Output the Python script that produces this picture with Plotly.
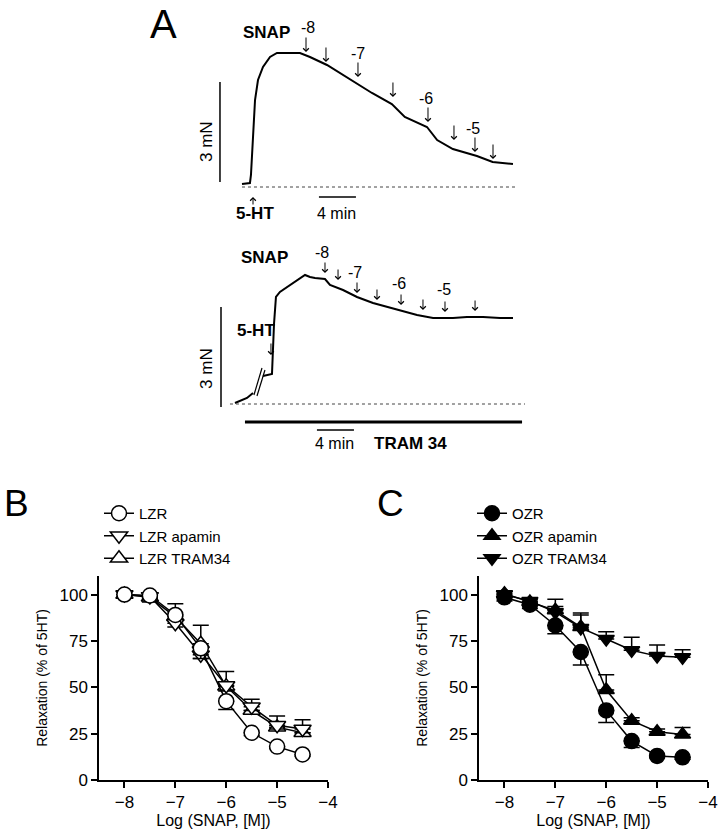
import plotly.graph_objects as go

# ---------------- Panel A data (time in min, tension in mN) ----------------
top_t = [0, 0.86, 0.97, 1.19, 1.41, 1.73, 2.27, 3.03, 3.78, 6.27, 7.35, 9.19, 10.6,
         12.4, 14.05, 16.2, 17.6, 20.0, 21.1, 22.8, 25.4, 27.1, 29.3]
top_f = [0.09, 0.12, 0.36, 1.41, 2.61, 3.21, 3.6, 3.9, 4.02, 4.02, 3.9, 3.66, 3.42,
         3.12, 2.82, 2.49, 2.1, 1.8, 1.41, 1.14, 0.93, 0.75, 0.69]
top_arrow_t = [6.92, 9.08, 12.54, 16.32, 20.11, 22.92, 25.19, 27.14]
top_arrow_f = [4.05, 3.75, 3.30, 2.70, 1.95, 1.41, 1.05, 0.84]
top_dose_lbl = ["-8", "-7", "-6", "-5"]
top_dose_t = [7.1, 12.5, 19.9, 25.0]
top_dose_f = [4.8, 4.02, 2.67, 1.77]

bot_t = [0, 1.3, 1.95, None, 3.03, 4.0, 4.22, 4.43, 4.86, 5.62, 6.70, 7.57, 8.11, 8.65,
         9.73, 10.27, 11.68, 13.19, 14.92, 16.43, 17.84, 19.68, 21.41, 23.57, 25.08,
         26.81, 28.65, 30.05]
bot_f = [0.03, 0.18, 0.33, None, 0.84, 0.90, 2.4, 3.21, 3.36, 3.51, 3.72, 3.87, 3.81, 3.78,
         3.75, 3.57, 3.42, 3.21, 3.03, 2.91, 2.82, 2.67, 2.58, 2.58, 2.61, 2.61, 2.58, 2.58]
bot_arrow_t = [9.73, 11.14, 13.19, 15.35, 17.95, 20.32, 22.70, 25.95]
bot_arrow_f = [3.93, 3.72, 3.33, 3.12, 2.97, 2.82, 2.76, 2.79]
bot_dose_lbl = ["-8", "-7", "-6", "-5"]
bot_dose_t = [9.4, 13.0, 17.7, 22.6]
bot_dose_f = [4.56, 3.96, 3.63, 3.45]

# ---------------- Panels B & C data ----------------
log_snap = [-8, -7.5, -7, -6.5, -6, -5.5, -5, -4.5]
x_ticks = [-8, -7, -6, -5, -4]
y_ticks = [0, 25, 50, 75, 100]

lzr = [100, 99.5, 89, 71, 42.5, 25.5, 18, 13.8]
lzr_err_dn = [1.5, 1.5, 2, 5.5, 4.5, 1.5, 1, 1]
lzr_apamin = [100, 99, 84.5, 67.5, 51, 39.5, 29.5, 27.5]
lzr_apamin_err_dn = [2, 3, 2, 2, 3, 2, 2, 2]
lzr_tram = [100, 98.5, 88, 73.5, 50.5, 37.5, 28.5, 25.5]
lzr_tram_err_up = [2, 2, 7, 10, 8, 6, 6, 7]

ozr = [98.5, 94.5, 83.3, 69, 37.5, 21, 13, 12.2]
ozr_err_dn = [2, 2, 4.5, 7, 6.5, 3.5, 1, 1]
ozr_apamin = [100.5, 96, 91.5, 82.5, 48.5, 32, 26, 24.6]
ozr_apamin_err_up = [1.5, 1.5, 6, 7.5, 8.3, 1.5, 1.5, 3.7]
ozr_tram = [100, 96.5, 90.5, 82, 76, 70, 66.8, 66.2]
ozr_tram_err_up = [2, 1.5, 3, 7, 4, 7, 6, 4]

FONT = "Liberation Sans, Arial, sans-serif"
W, H = 720, 829

fig = go.Figure()

def px_dom_x(a, b):
    return [a / W, b / W]

def px_dom_y(top, bottom):
    return [1 - bottom / H, 1 - top / H]

# ---------- Panel A traces ----------
fig.add_trace(go.Scatter(x=top_t, y=top_f, mode="lines", xaxis="x3", yaxis="y3",
                         line=dict(color="black", width=2), showlegend=False))
fig.add_trace(go.Scatter(x=bot_t, y=bot_f, mode="lines", xaxis="x4", yaxis="y4",
                         line=dict(color="black", width=2), showlegend=False,
                         connectgaps=False))

# ---------- Panels B & C ----------
def err(up=None, dn=None):
    n = len(log_snap)
    return dict(type="data", symmetric=False,
                array=up if up is not None else [0] * n,
                arrayminus=dn if dn is not None else [0] * n,
                color="black", thickness=1.5, width=8)

def series(name, y, sym, filled, e, xa, ya, leg, size=13):
    fig.add_trace(go.Scatter(
        x=log_snap, y=y, name=name, mode="lines+markers", xaxis=xa, yaxis=ya,
        legend=leg, error_y=e,
        line=dict(color="black", width=1.5),
        marker=dict(symbol=sym, size=size,
                    color="black" if filled else "white",
                    line=dict(color="black", width=1.5))))

series("LZR TRAM34", lzr_tram, "triangle-up", False, err(up=lzr_tram_err_up), "x", "y", "legend", 15)
series("LZR apamin", lzr_apamin, "triangle-down", False, err(dn=lzr_apamin_err_dn), "x", "y", "legend", 15)
series("LZR", lzr, "circle", False, err(dn=lzr_err_dn), "x", "y", "legend", 15)

series("OZR TRAM34", ozr_tram, "triangle-down", True, err(up=ozr_tram_err_up), "x2", "y2", "legend2", 14)
series("OZR apamin", ozr_apamin, "triangle-up", True, err(up=ozr_apamin_err_up), "x2", "y2", "legend2", 14)
series("OZR", ozr, "circle", True, err(dn=ozr_err_dn), "x2", "y2", "legend2", 15)

axis_common = dict(showline=True, linecolor="black", linewidth=1.5, ticks="outside",
                   ticklen=6, tickwidth=1.5, tickcolor="black", showgrid=False,
                   zeroline=False, automargin=False,
                   tickfont=dict(family=FONT, size=17, color="black"))

ydom = px_dom_y(576, 780)
xB = dict(axis_common, domain=px_dom_x(99, 328), range=[-8.5, -4], tickvals=x_ticks,
          anchor="y", title=dict(text="Log (SNAP, [M])", standoff=2,
                                 font=dict(family=FONT, size=16, color="black")))
yB = dict(axis_common, domain=ydom, range=[0, 110], tickvals=y_ticks, anchor="x",
          title=dict(text="Relaxation (% of 5HT)", standoff=9,
                     font=dict(family=FONT, size=14, color="black")))
xC = dict(xB, domain=px_dom_x(479, 708), anchor="y2")
yC = dict(yB, anchor="x2")

hidden = dict(visible=False, showgrid=False, zeroline=False, automargin=False)
x3 = dict(hidden, domain=px_dom_x(200, 540), range=[-4.54, 32.22], anchor="y3")
y3 = dict(hidden, domain=px_dom_y(0, 230), range=[-1.29, 5.61], anchor="x3")
x4 = dict(hidden, domain=px_dom_x(200, 540), range=[-3.78, 32.97], anchor="y4")
y4 = dict(hidden, domain=px_dom_y(230, 470), range=[-1.98, 5.22], anchor="x4")

shapes = [
    # top: baseline, 3 mN bar, 4 min bar
    dict(type="line", xref="x3", yref="y3", x0=0, x1=29.6, y0=0, y1=0,
         line=dict(color="#444", width=1, dash="dot")),
    dict(type="line", xref="x3", yref="y3", x0=-2.38, x1=-2.38, y0=0.15, y1=3.15,
         line=dict(color="black", width=1.5)),
    dict(type="line", xref="x3", yref="y3", x0=8.32, x1=12.32, y0=-0.3, y1=-0.3,
         line=dict(color="black", width=1.5)),
    # bottom
    dict(type="line", xref="x4", yref="y4", x0=-0.54, x1=31.35, y0=0, y1=0,
         line=dict(color="#444", width=1, dash="dot")),
    dict(type="line", xref="x4", yref="y4", x0=-1.51, x1=-1.51, y0=-0.09, y1=2.91,
         line=dict(color="black", width=1.5)),
    dict(type="line", xref="x4", yref="y4", x0=8.86, x1=12.86, y0=-0.78, y1=-0.78,
         line=dict(color="black", width=1.5)),
    dict(type="line", xref="x4", yref="y4", x0=1.08, x1=31.03, y0=-0.54, y1=-0.54,
         line=dict(color="black", width=3)),
    dict(type="line", xref="x4", yref="y4", x0=2.05, x1=2.92, y0=0.27, y1=1.08,
         line=dict(color="black", width=1.2)),
    dict(type="line", xref="x4", yref="y4", x0=2.38, x1=3.24, y0=0.24, y1=1.02,
         line=dict(color="black", width=1.2)),
]

ann = []
def txt(text, x, y, xref, yref, size=14, bold=False, angle=0, yanchor="middle", **kw):
    ann.append(dict(text=f"<b>{text}</b>" if bold else text, x=x, y=y, xref=xref, yref=yref,
                    showarrow=False, textangle=angle,
                    font=dict(family=FONT, size=size, color="black"),
                    xanchor="center", yanchor=yanchor, **kw))

def arrow(x, y, xref, yref, ay):
    ann.append(dict(text="", x=x, y=y, xref=xref, yref=yref, showarrow=True,
                    ax=0, ay=ay, arrowhead=4, arrowsize=1.1, arrowwidth=1,
                    arrowcolor="black", standoff=0, startstandoff=0))

for t, f in zip(top_arrow_t, top_arrow_f):
    arrow(t, f, "x3", "y3", -16)
for l, t, f in zip(top_dose_lbl, top_dose_t, top_dose_f):
    txt(l, t, f, "x3", "y3", size=16)
for t, f in zip(bot_arrow_t, bot_arrow_f):
    arrow(t, f, "x4", "y4", -12)
for l, t, f in zip(bot_dose_lbl, bot_dose_t, bot_dose_f):
    txt(l, t, f, "x4", "y4", size=16)

txt("SNAP", 2.6, 4.65, "x3", "y3", size=17, bold=True)
arrow(1.19, -0.3, "x3", "y3", 9)
txt("5-HT", 1.4, -0.8, "x3", "y3", size=17, bold=True)
txt("4 min", 10.27, -0.78, "x3", "y3", size=16)
txt("3 mN", -3.89, 1.35, "x3", "y3", size=17, angle=-90)

txt("SNAP", 3.24, 4.41, "x4", "y4", size=17, bold=True)
txt("5-HT", 2.27, 2.22, "x4", "y4", size=17, bold=True)
arrow(3.89, 1.47, "x4", "y4", -13)
txt("3 mN", -3.14, 1.08, "x4", "y4", size=17, angle=-90)
txt("4 min", 10.81, -1.17, "x4", "y4", size=16)
txt("TRAM 34", 18.92, -1.17, "x4", "y4", size=17, bold=True)

txt("A", 163 / W, 1.0, "paper", "paper", size=40, yanchor="top")
txt("B", 16 / W, 1 - 504 / H, "paper", "paper", size=37)
txt("C", 391 / W, 1 - 504 / H, "paper", "paper", size=37)

leg_common = dict(font=dict(family=FONT, size=15, color="black"), bgcolor="rgba(0,0,0,0)",
                  xanchor="left", yanchor="top", traceorder="reversed", tracegroupgap=0)

fig.update_layout(
    template="none",
    width=W, height=H, margin=dict(l=0, r=0, t=0, b=0),
    paper_bgcolor="white", plot_bgcolor="white",
    xaxis=xB, yaxis=yB, xaxis2=xC, yaxis2=yC,
    xaxis3=x3, yaxis3=y3, xaxis4=x4, yaxis4=y4,
    shapes=shapes, annotations=ann,
    legend=dict(leg_common, x=99 / W, y=1 - 497 / H),
    legend2=dict(leg_common, x=472 / W, y=1 - 497 / H),
    font=dict(family=FONT, color="black"),
)

fig.write_html("out.html", config={"displayModeBar": False},
               post_script="document.body.style.margin='0';")
